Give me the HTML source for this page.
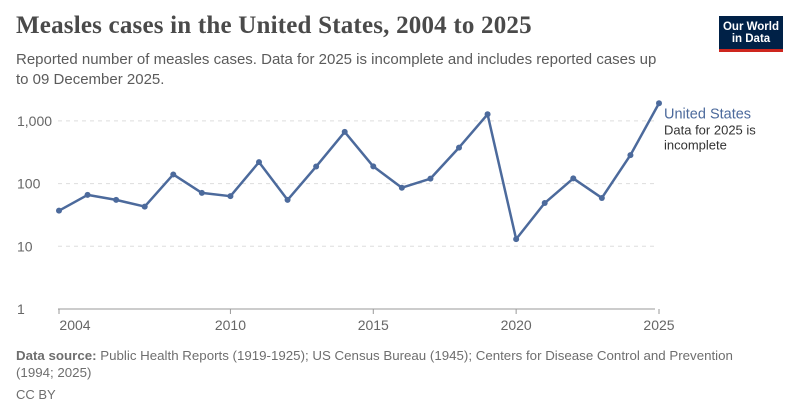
<!DOCTYPE html>
<html><head><meta charset="utf-8"><style>
body{margin:0;width:800px;height:418px;background:#fff;font-family:"Liberation Sans",sans-serif;overflow:hidden;position:relative}
.t{position:absolute;margin:0}
</style></head><body>
<h1 class="t" style="left:16px;top:12px;font-family:'Liberation Serif',serif;font-size:25px;font-weight:bold;color:#4a4a4a;letter-spacing:0.2px">Measles cases in the United States, 2004 to 2025</h1>
<p class="t" style="left:16px;top:50px;width:720px;font-size:15px;line-height:20px;color:#5b5b5b">Reported number of measles cases. Data for 2025 is incomplete and includes reported cases up<br>to 09 December 2025.</p>
<div style="position:absolute;left:719px;top:16px;width:64px;height:36px;background:#002147;border-bottom:3px solid #ce261e;box-sizing:border-box;color:#fff;font-size:11.5px;line-height:12px;text-align:center;padding-top:5px;font-weight:bold">Our World<br>in Data</div>
<svg id="chart" width="800" height="418" style="position:absolute;left:0;top:0"></svg>
<p class="t" style="left:16px;top:347px;width:780px;font-size:13.3px;line-height:17px;color:#6e6e6e"><b>Data source:</b> Public Health Reports (1919-1925); US Census Bureau (1945); Centers for Disease Control and Prevention<br>(1994; 2025)</p>
<p class="t" style="left:16px;top:387px;font-size:13px;color:#6e6e6e">CC BY</p>
<script>
const years=[2004,2005,2006,2007,2008,2009,2010,2011,2012,2013,2014,2015,2016,2017,2018,2019,2020,2021,2022,2023,2024,2025];
const cases=[37,66,55,43,140,71,63,220,55,187,667,188,86,120,375,1274,13,49,121,59,285,1912];
const yTicks=[1,10,100,1000];
const yTickLabels=["1","10","100","1,000"];
const xTicks=[2004,2010,2015,2020,2025];
const NS="http://www.w3.org/2000/svg";
const svg=document.getElementById('chart');
const x=v=>59+(v-2004)*(600/21);
const y=v=>309-Math.log10(v)*62.7;
function mk(t,a){const e=document.createElementNS(NS,t);for(const k in a)e.setAttribute(k,a[k]);svg.appendChild(e);return e;}
yTicks.forEach((t,i)=>{
 const g=mk('line',{x1:58,x2:655,y1:y(t),y2:y(t),stroke:t===1?'#999':'#ddd','stroke-dasharray':t===1?'':'4,4'});
 
 const l=mk('text',{x:17,y:y(t)+5,'font-size':14,fill:'#666'});l.textContent=yTickLabels[i];
 
});
xTicks.forEach(t=>{
 const k=mk('line',{x1:x(t),x2:x(t),y1:309,y2:314,stroke:'#999'});
 
 const l=mk('text',{x:x(t)+(t===2004?16:0),y:330,'font-size':14,fill:'#666','text-anchor':'middle'});l.textContent=t;
 
});
const p=mk('polyline',{points:years.map((v,i)=>x(v)+','+y(cases[i])).join(' '),fill:'none',stroke:'#4c6a9c','stroke-width':2.5,'stroke-linejoin':'round'});

years.forEach((v,i)=>{const c=mk('circle',{cx:x(v),cy:y(cases[i]),r:3,fill:'#4c6a9c'});
 });
const ly=y(cases[cases.length-1]);
const t1=mk('text',{x:664,y:ly+15,'font-size':14.5,fill:'#4c6a9c'});t1.textContent='United States';

['Data for 2025 is','incomplete'].forEach((s,i)=>{const t=mk('text',{x:664,y:ly+31+i*15,'font-size':13,fill:'#333'});t.textContent=s;
 });
</script>
</body></html>
